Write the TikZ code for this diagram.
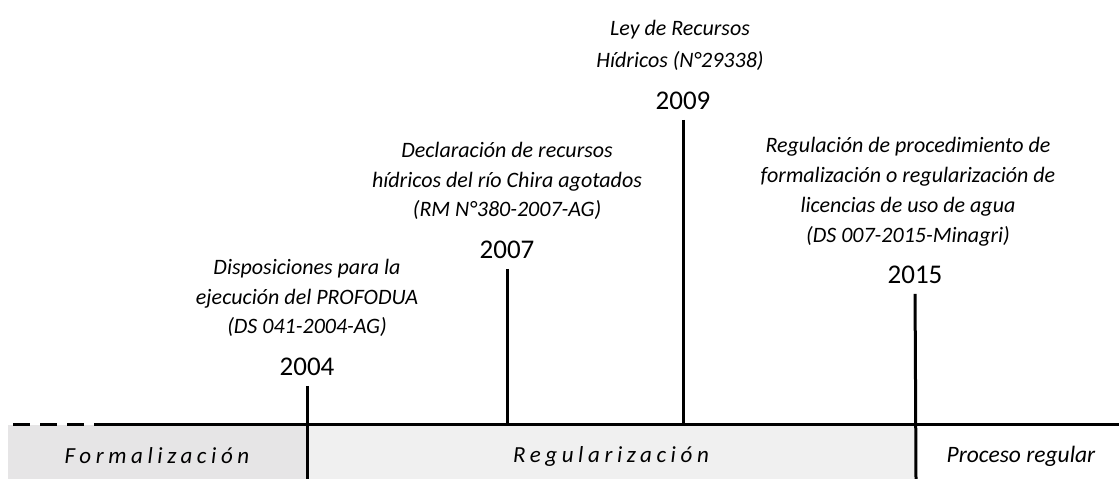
\documentclass[tikz,border=0pt]{standalone}
\usepackage{fontspec}
\setmainfont{Carlito}
\usepackage{xcolor}
\usepackage{tikz}
\usetikzlibrary{positioning}
\definecolor{formgray}{HTML}{E6E5E6}
\definecolor{reggray}{HTML}{F0F0F0}

\begin{document}
\begin{tikzpicture}[x=1pt, y=-1pt,
  year/.style={font=\fontsize{27}{30}\selectfont, inner sep=0pt, text depth=0pt},
  desc/.style={font=\fontsize{22}{29.5}\selectfont\itshape, align=center, inner sep=0pt},
  tick/.style={line width=3pt, shorten <=10pt},
  axis/.style={line width=3pt},
  phase/.style={font=\fontsize{23}{26}\selectfont\itshape\addfontfeature{LetterSpace=20}}]
  \useasboundingbox (0,0) rectangle (1119,479);
  % Franjas de etapas
  \fill[formgray] (8,425) rectangle (307,479);
  \fill[reggray] (307,425) rectangle (916,479);
  % Eje del tiempo
  \coordinate (ini) at (13,424);
  \coordinate (cut) at (95,424);
  \coordinate (fin) at (1119,424);
  \draw[axis, dash pattern=on 17pt off 10pt] (ini) -- (cut);
  \draw[axis] (cut) -- (fin);
  % Años
  \node[year] (y2004) at (307,367) {2004};
  \node[year] (y2007) at (507,250) {2007};
  \node[year] (y2009) at (683,101) {2009};
  \node[year] (y2015) at (915,275) {2015};
  \coordinate (b2004) at (307,479);
  \coordinate (a2007) at (507,424);
  \coordinate (a2009) at (683,424);
  \coordinate (b2015) at (916,479);
  \draw[tick] (y2004.south) -- (b2004);
  \draw[tick] (y2007.south) -- (a2007);
  \draw[tick] (y2009.south) -- (a2009);
  \draw[tick] (y2015.south) -- (b2015);
  % Normas
  \node[desc, above=21pt of y2004] (d2004)
    {Disposiciones para la\\ejecución del PROFODUA\\(DS 041-2004-AG)};
  \node[desc, above=21pt of y2007] (d2007)
    {Declaración de recursos\\hídricos del río Chira agotados\\(RM N°380-2007-AG)};
  \node[desc, above=21pt of y2009, xshift=-3pt, font=\fontsize{22}{32}\selectfont\itshape] (d2009)
    {Ley de Recursos\\Hídricos (N°29338)};
  \node[desc, above=20pt of y2015, xshift=-7pt, font=\fontsize{22}{30}\selectfont\itshape] (d2015)
    {Regulación de procedimiento de\\formalización o regularización de\\licencias de uso de agua\\(DS 007-2015-Minagri)};
  % Etapas
  \node[phase] (form) at (157,456) {Formalización};
  \node[phase] (regu) at (611,456) {Regularización};
  \node[font=\fontsize{23.5}{26}\selectfont\itshape] (proc) at (1021,456) {Proceso regular};
\end{tikzpicture}
\end{document}
